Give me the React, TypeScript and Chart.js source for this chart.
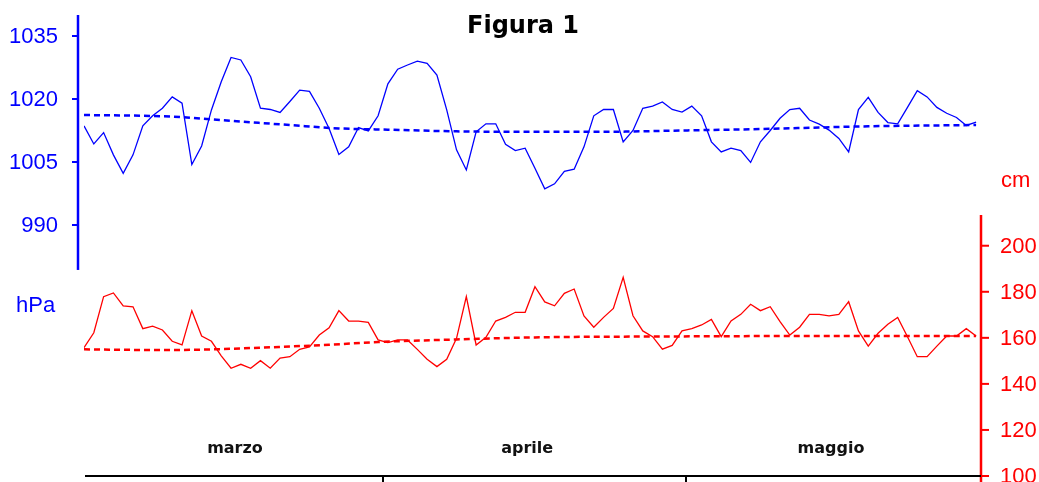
import React, { useEffect, useRef } from "react";
import { Chart, registerables } from "chart.js";

Chart.register(...registerables);

const title = "Figura 1";
const months = ["marzo", "aprile", "maggio"];
const monthLabelDays = [15.4, 45.2, 76.2];
const monthBoundaryDays = [30.5, 61.4];

const pressureTicks = [990, 1005, 1020, 1035];
const levelTicks = [100, 120, 140, 160, 180, 200];
const pressureUnit = "hPa";
const levelUnit = "cm";

const pressure = [
  1013.6, 1009.3, 1012.0, 1006.7, 1002.3, 1006.7, 1013.6, 1016.0, 1017.8, 1020.5,
  1019.0, 1004.4, 1008.8, 1017.4, 1024.1, 1029.9, 1029.3, 1025.3, 1017.8, 1017.5,
  1016.8, 1019.4, 1022.1, 1021.8, 1017.8, 1013.0, 1006.8, 1008.6, 1013.2, 1012.4,
  1016.0, 1023.6, 1027.1, 1028.1, 1029.0, 1028.5, 1025.7, 1017.4, 1007.9, 1003.1,
  1012.2, 1014.1, 1014.1, 1009.2, 1007.7, 1008.3, 1003.5, 998.6, 999.8, 1002.8,
  1003.3, 1008.6, 1016.0, 1017.5, 1017.5, 1009.8, 1012.5, 1017.8, 1018.3, 1019.3,
  1017.5, 1016.9, 1018.3, 1016.0, 1009.8, 1007.4, 1008.3, 1007.7, 1004.9, 1009.8,
  1012.5, 1015.4, 1017.5, 1017.8, 1015.0, 1014.0, 1012.6, 1010.6, 1007.4, 1017.5,
  1020.4, 1016.8, 1014.4, 1014.1, 1018.0, 1022.0, 1020.5, 1018.0, 1016.6, 1015.6,
  1013.7, 1014.5,
];

const level = [
  155.7, 162.2, 177.9, 179.5, 173.9, 173.5, 164.0, 165.1, 163.4, 158.5,
  156.9, 171.8, 160.8, 158.5, 152.2, 146.8, 148.5, 146.8, 150.1, 146.8,
  151.2, 151.8, 155.0, 156.1, 161.2, 164.4, 171.8, 167.3, 167.3, 166.7,
  159.1, 157.9, 159.1, 159.1, 155.0, 150.7, 147.5, 150.7, 159.8, 177.9,
  156.9, 160.2, 167.3, 168.9, 171.1, 171.1, 182.2, 175.6, 173.9, 179.3,
  181.2, 169.5, 164.6, 168.9, 172.8, 186.3, 169.6, 163.0, 160.5, 155.1,
  156.7, 163.0, 164.0, 165.6, 168.0, 160.5, 167.3, 170.2, 174.6, 171.8,
  173.5, 167.0, 161.2, 164.6, 170.2, 170.2, 169.5, 170.2, 175.7, 163.0,
  156.4, 162.0, 165.9, 168.9, 160.5, 151.8, 151.8, 156.4, 160.8, 160.8,
  164.0, 160.8,
];

const pressureTrendDays = [0, 9, 15, 21, 26, 31, 38, 45, 53, 61, 70, 80, 91];
const pressureTrend = [1016.2, 1015.8, 1014.8, 1013.8, 1013.0, 1012.7, 1012.3, 1012.2, 1012.2, 1012.5, 1012.9, 1013.5, 1013.8];

const levelTrendDays = [0, 8, 14, 19, 25, 30, 38, 46, 60, 75, 91];
const levelTrend = [155.0, 154.7, 155.1, 155.9, 157.0, 158.2, 159.3, 160.2, 160.6, 160.8, 160.8];

const BLUE = "rgb(0,0,255)";
const RED = "rgb(255,0,0)";

const axesPlugin = {
  id: "customAxes",
  afterDraw(chart: any) {
    const ctx = chart.ctx;
    const area = chart.chartArea;
    const xs = chart.scales.x;
    const yB = chart.scales.yB;
    const yR = chart.scales.yR;
    ctx.save();

    // Blue (pressure) axis
    const bx = area.left - 6;
    ctx.strokeStyle = BLUE;
    ctx.lineWidth = 2.5;
    ctx.beginPath();
    ctx.moveTo(bx, yB.getPixelForValue(1040));
    ctx.lineTo(bx, yB.getPixelForValue(979.3));
    ctx.stroke();
    ctx.fillStyle = BLUE;
    ctx.font = '22px "Liberation Sans", Arial, sans-serif';
    ctx.textAlign = "right";
    ctx.textBaseline = "middle";
    pressureTicks.forEach((t) => {
      const y = yB.getPixelForValue(t);
      ctx.lineWidth = 2;
      ctx.beginPath();
      ctx.moveTo(bx - 6, y);
      ctx.lineTo(bx, y);
      ctx.stroke();
      ctx.fillText(String(t), bx - 20, y + 1);
    });
    ctx.textAlign = "left";
    ctx.textBaseline = "alphabetic";
    ctx.fillText(pressureUnit, 16, 312);

    // Red (level) axis
    const rx = area.right;
    ctx.strokeStyle = RED;
    ctx.fillStyle = RED;
    ctx.lineWidth = 2.5;
    ctx.beginPath();
    ctx.moveTo(rx, yR.getPixelForValue(213.3));
    ctx.lineTo(rx, chart.height);
    ctx.stroke();
    ctx.textAlign = "left";
    ctx.textBaseline = "middle";
    levelTicks.forEach((t) => {
      const y = yR.getPixelForValue(t);
      ctx.lineWidth = 2;
      ctx.beginPath();
      ctx.moveTo(rx, y);
      ctx.lineTo(rx + 8, y);
      ctx.stroke();
      ctx.fillText(String(t), rx + 19, y + 1);
    });
    ctx.textBaseline = "alphabetic";
    ctx.fillText(levelUnit, rx + 20, 187);

    // Time axis
    ctx.strokeStyle = "#000";
    ctx.lineWidth = 2;
    ctx.beginPath();
    ctx.moveTo(area.left + 1, area.bottom);
    ctx.lineTo(area.right, area.bottom);
    ctx.stroke();
    monthBoundaryDays.forEach((d) => {
      const x = Math.round(xs.getPixelForValue(d));
      ctx.beginPath();
      ctx.moveTo(x, area.bottom);
      ctx.lineTo(x, chart.height);
      ctx.stroke();
    });
    ctx.fillStyle = "#111";
    ctx.font = 'bold 16px "DejaVu Sans", sans-serif';
    ctx.textAlign = "center";
    months.forEach((m, i) => {
      ctx.fillText(m, xs.getPixelForValue(monthLabelDays[i]), area.bottom - 23);
    });

    // Title
    ctx.fillStyle = "#000";
    ctx.font = 'bold 24px "DejaVu Sans", sans-serif';
    ctx.fillText(title, 523, 33);
    ctx.restore();
  },
};

export default function App() {
  const ref = useRef<HTMLCanvasElement | null>(null);
  useEffect(() => {
    if (!ref.current) return;
    const toXY = (xs: number[], ys: number[]) => ys.map((v, i) => ({ x: xs[i], y: v }));
    const dayIdx = pressure.map((_, i) => i);
    const chart = new Chart(ref.current, {
      type: "line",
      data: {
        datasets: [
          {
            data: toXY(dayIdx, pressure),
            yAxisID: "yB",
            borderColor: BLUE,
            borderWidth: 1.3,
            pointRadius: 0,
            tension: 0,
          },
          {
            data: toXY(pressureTrendDays, pressureTrend),
            yAxisID: "yB",
            borderColor: BLUE,
            borderWidth: 2.5,
            borderDash: [6, 4],
            pointRadius: 0,
            cubicInterpolationMode: "monotone",
          },
          {
            data: toXY(dayIdx, level),
            yAxisID: "yR",
            borderColor: RED,
            borderWidth: 1.3,
            pointRadius: 0,
            tension: 0,
          },
          {
            data: toXY(levelTrendDays, levelTrend),
            yAxisID: "yR",
            borderColor: RED,
            borderWidth: 2.5,
            borderDash: [6, 4],
            pointRadius: 0,
            cubicInterpolationMode: "monotone",
          },
        ],
      },
      options: {
        responsive: false,
        animation: false,
        devicePixelRatio: 1,
        layout: { padding: { left: 84, right: 58, top: 15, bottom: 6 } },
        plugins: { legend: { display: false }, tooltip: { enabled: false }, title: { display: false } },
        events: [],
        scales: {
          x: { type: "linear", min: 0, max: 91.5, display: false },
          yB: { type: "linear", min: 930.24, max: 1040, display: false },
          yR: { type: "linear", min: 100, max: 300.2, display: false },
        },
      },
      plugins: [axesPlugin],
    });
    return () => chart.destroy();
  }, []);
  return (
    <div style={{ position: "fixed", left: 0, top: 0, width: 1039, height: 482, background: "#fff" }}>
      <canvas ref={ref} width={1039} height={482} style={{ display: "block" }} />
    </div>
  );
}
